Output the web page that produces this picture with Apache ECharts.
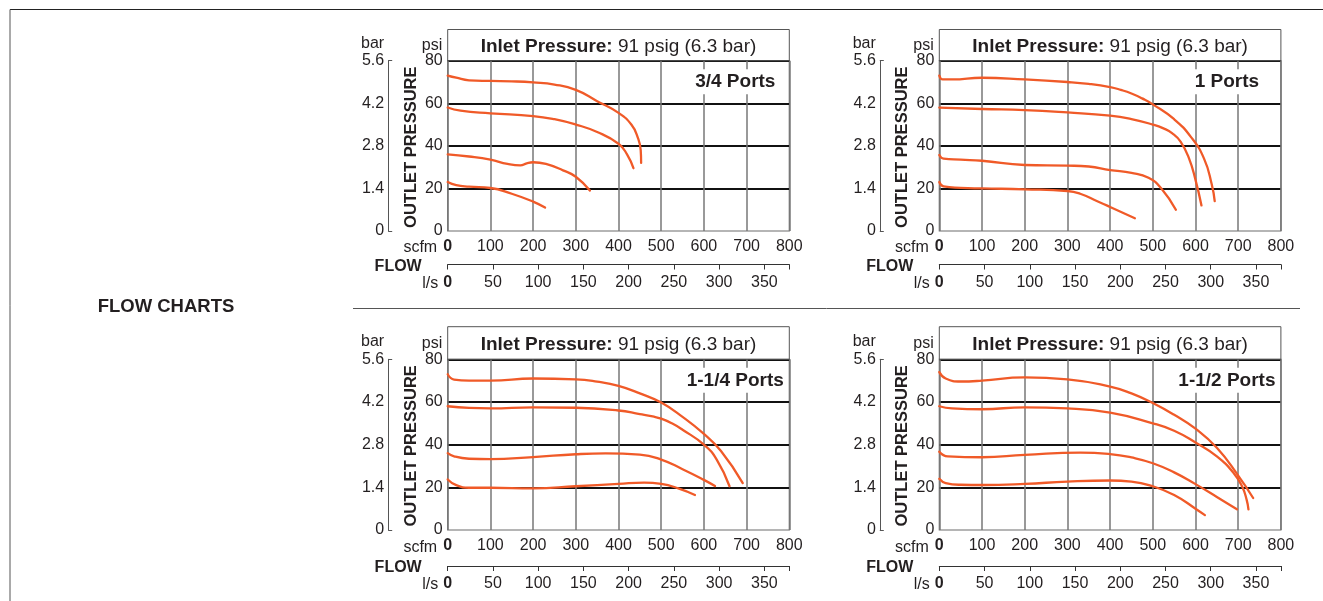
<!DOCTYPE html>
<html><head><meta charset="utf-8">
<script src="https://cdn.jsdelivr.net/npm/echarts@6/dist/echarts.min.js"></script>
<style>html,body{margin:0;padding:0;background:#fff}#c{width:1323px;height:601px}</style>
</head><body><div id="c"></div>
<script>
// ---------- data ----------
const psiTicks = [0, 20, 40, 60, 80];
const barTicks = [0, 1.4, 2.8, 4.2, 5.6];
const scfmTicks = [0, 100, 200, 300, 400, 500, 600, 700, 800];
const lpsTicks = [0, 50, 100, 150, 200, 250, 300, 350];
const lpsPerScfm = 0.47195;
const portLabels = ['3/4 Ports', '1 Ports', '1-1/4 Ports', '1-1/2 Ports'];
const inletBold = 'Inlet Pressure:';
const inletRest = ' 91 psig (6.3 bar)';
const sectionTitle = 'FLOW CHARTS';

// [scfm, psi]
const curves34 = [
  [[0,73],[20,72],[50,70.8],[100,70.5],[150,70.3],[200,69.8],[250,68.8],[300,66.3],[350,61],[400,55.5],[430,50],[445,44],[452,38],[453,32]],
  [[0,58],[30,56.5],[100,55.3],[200,54],[250,52.5],[300,50],[350,46.5],[400,41],[420,36],[435,29.5]],
  [[0,36],[50,35],[100,33.5],[140,31.5],[170,30.8],[185,31.8],[200,32.3],[230,31.5],[270,28.5],[300,25.5],[333,19]],
  [[0,23],[20,21.5],[50,20.8],[100,20.2],[150,17.5],[200,13.8],[228,11]]
];
const curves1 = [
  [[0,73],[8,71.2],[30,71.2],[100,72],[200,71.2],[300,70],[350,69.1],[400,67.6],[425,66.3],[450,64.6],[475,62.3],[500,59.5],[550,52.5],[590,44],[620,34],[638,22],[645,14]],
  [[0,58],[100,57.3],[200,56.8],[300,55.7],[400,54.2],[450,52.6],[500,50],[525,48.2],[545,46],[565,42],[585,34],[600,24],[614,12]],
  [[0,35.7],[10,34],[50,33.5],[100,33],[200,31],[300,30.7],[350,30.3],[400,28.6],[450,27.3],[490,25],[520,20],[554,10]],
  [[0,23],[10,21],[50,20.3],[100,20],[200,19.6],[300,18.8],[330,17.5],[370,14],[400,11.3],[458,6]]
];
const curves114 = [
  [[0,73],[15,70.5],[50,70],[100,70],[200,71],[300,70.6],[350,69.5],[400,67.5],[450,64],[500,59.7],[550,53],[600,45],[640,37],[691,22]],
  [[0,58],[50,57.2],[100,57],[200,57.5],[300,57.3],[400,56],[450,54.3],[480,53.2],[500,52.2],[525,50],[550,47],[600,40],[630,33],[660,20.5]],
  [[0,36],[15,34.5],[50,33.4],[100,33.2],[200,34.2],[300,35.5],[370,35.9],[450,35.3],[500,33],[550,28.5],[600,23.5],[626,20.6]],
  [[0,23.7],[20,21],[50,19.8],[100,19.8],[200,19.5],[300,20.5],[400,21.6],[460,22.2],[500,21.6],[540,19.5],[579,16.4]]
];
const curves112 = [
  [[0,74],[15,71],[50,69.6],[100,70],[200,71.5],[300,70.6],[400,67.2],[450,64],[500,59.5],[550,54],[600,47.5],[650,38.5],[700,25.5],[735,15]],
  [[0,58],[30,57],[100,56.6],[200,57.5],[300,57],[400,55],[500,50],[550,46.5],[600,41],[650,34.5],[690,26.5],[710,20],[720,14],[724,9.7]],
  [[0,36.7],[20,34.5],[100,34.1],[200,35.2],[330,36.3],[400,35.6],[450,34],[500,31.3],[550,27],[600,21.5],[650,15.5],[697,9.7]],
  [[0,24],[15,22],[50,21.2],[100,21.1],[200,21.6],[300,22.7],[400,23.2],[450,22.7],[500,20.5],[550,16.4],[600,10],[622,7]]
];
const allCurves = [curves34, curves1, curves114, curves112];

// ---------- layout ----------
const FONT = '"Liberation Sans", Arial, Helvetica, sans-serif';
const TXT = '#231f20';
const CURVE = '#F05A28';
const panels = [
  {L: 447.7, T: 60.7, W: 341.6, H: 170.3, titleTop: 29.5},
  {L: 939.3, T: 60.7, W: 341.6, H: 170.3, titleTop: 29.5},
  {L: 447.7, T: 359.3, W: 341.6, H: 170.7, titleTop: 326.7},
  {L: 939.3, T: 359.3, W: 341.6, H: 170.7, titleTop: 326.7}
];

const grid = [], xAxis = [], yAxis = [], series = [], graphic = [];
const boldRich = {b: {fontWeight: 'bold', fontSize: 16, fontFamily: FONT, color: TXT}};

panels.forEach((p, i) => {
  grid.push({left: p.L, top: p.T, width: p.W, height: p.H, containLabel: false,
    show: true, borderColor: '#6d6d6d', borderWidth: 1.2, backgroundColor: 'transparent'});
  // scfm axis
  xAxis.push({type: 'value', gridIndex: i, position: 'bottom',
    min: scfmTicks[0], max: scfmTicks[scfmTicks.length - 1], interval: scfmTicks[1] - scfmTicks[0],
    axisLine: {show: false}, axisTick: {show: false},
    axisLabel: {margin: 8, fontSize: 16, fontFamily: FONT, color: TXT,
      formatter: v => v === 0 ? '{b|0}' : String(v), rich: boldRich},
    splitLine: {show: true, lineStyle: {color: '#777', width: 1.5}}});
  // l/s axis
  const lpsMax = scfmTicks[scfmTicks.length - 1] * lpsPerScfm;
  xAxis.push({type: 'value', gridIndex: i, position: 'bottom', offset: i < 2 ? 33.5 : 36,
    min: 0, max: lpsMax, interval: lpsTicks[1] - lpsTicks[0],
    axisLine: {show: true, onZero: false, lineStyle: {color: '#333', width: 1}},
    axisTick: {show: true, length: 5, lineStyle: {color: '#333', width: 1}},
    axisLabel: {margin: 10, fontSize: 16, fontFamily: FONT, color: TXT, showMaxLabel: true,
      formatter: v => (lpsTicks.indexOf(Math.round(v * 1000) / 1000) < 0) ? '' : (v === 0 ? '{b|0}' : String(v)),
      rich: boldRich},
    splitLine: {show: false}});
  // psi axis
  yAxis.push({type: 'value', gridIndex: i, position: 'left',
    min: psiTicks[0], max: psiTicks[psiTicks.length - 1], interval: psiTicks[1] - psiTicks[0],
    axisLine: {show: false}, axisTick: {show: false},
    axisLabel: {margin: 5, fontSize: 16, fontFamily: FONT, color: TXT},
    splitLine: {show: true, showMinLine: false, lineStyle: {color: '#111', width: 2}}});
  // bar axis
  yAxis.push({type: 'value', gridIndex: i, position: 'left', offset: 59.5,
    min: barTicks[0], max: barTicks[barTicks.length - 1], interval: barTicks[1] - barTicks[0],
    axisLine: {show: true, onZero: false, lineStyle: {color: '#555', width: 1}},
    axisTick: {show: true, inside: true, length: 4, customValues: [barTicks[0], barTicks[barTicks.length - 1]],
      lineStyle: {color: '#555', width: 1}},
    axisLabel: {margin: 4, fontSize: 16, fontFamily: FONT, color: TXT,
      formatter: v => v === 0 ? '0' : v.toFixed(1)},
    splitLine: {show: false}});

  allCurves[i].forEach((c, k) => {
    series.push({type: 'line', xAxisIndex: 2 * i, yAxisIndex: 2 * i, data: c,
      showSymbol: false, smooth: 0.5, silent: true, z: 3,
      lineStyle: {color: CURVE, width: 2.3, cap: 'round', join: 'round'}});
  });

  const R = p.L + p.W, B = p.T + p.H;
  // title box
  graphic.push({type: 'rect', silent: true, z: 1,
    shape: {x: p.L, y: p.titleTop, width: p.W, height: p.T - p.titleTop},
    style: {fill: 'none', stroke: '#555', lineWidth: 1}});
  graphic.push({type: 'text', silent: true, z: 5, x: p.L + p.W / 2, y: (p.titleTop + p.T) / 2 + 1.5,
    style: {text: '{b|' + inletBold + '}' + inletRest, align: 'center', verticalAlign: 'middle',
      font: '19px ' + FONT, fill: TXT,
      rich: {b: {font: 'bold 19px ' + FONT, fill: TXT}}}});
  // port label
  graphic.push({type: 'text', silent: true, z: 6, x: R - 54, y: p.T + 21,
    style: {text: portLabels[i], align: 'center', verticalAlign: 'middle', font: 'bold 19px ' + FONT,
      fill: TXT, backgroundColor: '#fff', padding: [3, 3, 3, 3]}});
  // axis captions
  const cap = (txt, x, y, bold, align) => graphic.push({type: 'text', silent: true, z: 5, x: x, y: y,
    style: {text: txt, align: align || 'right', verticalAlign: 'middle',
      font: (bold ? 'bold ' : '') + '16px ' + FONT, fill: TXT}});
  cap('bar', p.L - 63.5, p.T - 17.5);
  cap('psi', p.L - 5.5, p.T - 15.5);
  cap('scfm', p.L - 10.5, B + 16.5 + (i < 2 ? 0 : 1));
  cap('FLOW', p.L - 26, B + 36 + (i < 2 ? 0 : 2), true);
  cap('l/s', p.L - 9.5, B + 52.5 + (i < 2 ? 0 : 2.5));
  graphic.push({type: 'text', silent: true, z: 5, x: p.L - 36.5, y: p.T + 86.5, rotation: Math.PI / 2,
    style: {text: 'OUTLET PRESSURE', align: 'center', verticalAlign: 'middle',
      font: 'bold 16.5px ' + FONT, fill: TXT}});
});

// frame, separator, section title
graphic.push({type: 'line', silent: true, shape: {x1: 10, y1: 9.5, x2: 1323, y2: 9.5},
  style: {stroke: '#222', lineWidth: 1.2}});
graphic.push({type: 'line', silent: true, shape: {x1: 10, y1: 9.5, x2: 10, y2: 601},
  style: {stroke: '#555', lineWidth: 1}});
graphic.push({type: 'line', silent: true, shape: {x1: 353, y1: 308.5, x2: 1300, y2: 308.5},
  style: {stroke: '#555', lineWidth: 1}});
graphic.push({type: 'text', silent: true, x: 166, y: 307, style: {text: sectionTitle, align: 'center',
  verticalAlign: 'middle', font: 'bold 18.5px ' + FONT, fill: TXT}});

const chart = echarts.init(document.getElementById('c'), null, {renderer: 'canvas'});
chart.setOption({animation: false, grid, xAxis, yAxis, series, graphic});
</script></body></html>
